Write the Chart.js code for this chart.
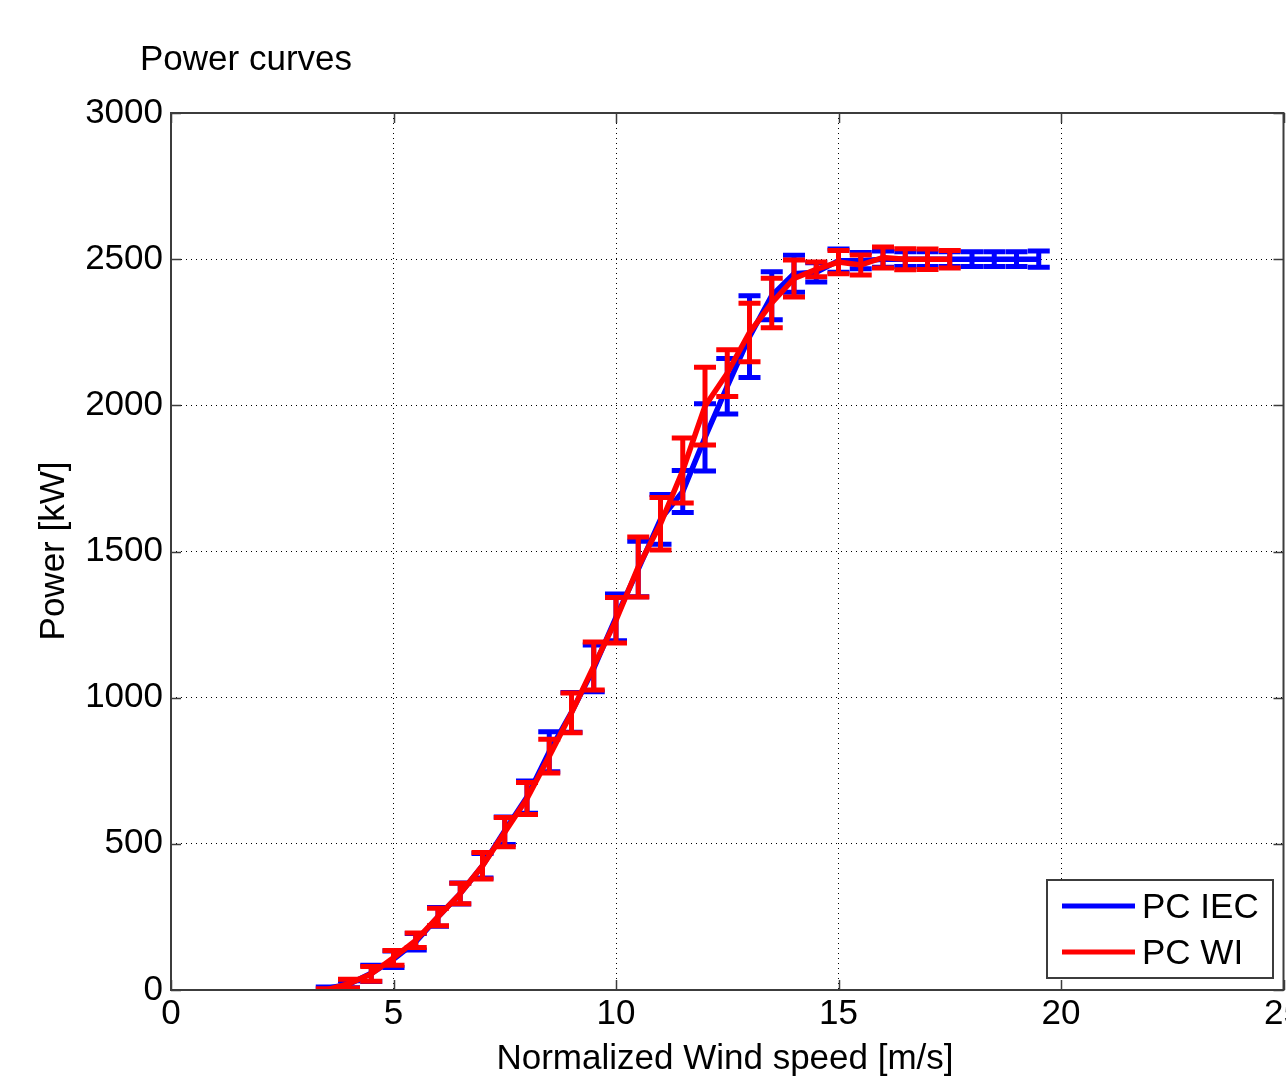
<!DOCTYPE html>
<html>
<head>
<meta charset="utf-8">
<script src="https://cdn.jsdelivr.net/npm/chart.js@4.4.0/dist/chart.umd.min.js"></script>
<style>
  html, body { margin: 0; padding: 0; background: #fff; }
  #wrap { width: 1286px; height: 1081px; position: relative; }
</style>
</head>
<body>
<div id="wrap"><canvas id="pc"></canvas></div>
<script>
// Wind speed bins [m/s]
const iecSpeed = [3.5, 4, 4.5, 5, 5.5, 6, 6.5, 7, 7.5, 8, 8.5, 9, 9.5, 10, 10.5, 11, 11.5, 12, 12.5, 13, 13.5, 14, 14.5, 15, 15.5, 16, 16.5, 17, 17.5, 18, 18.5, 19, 19.5];
const iecPower = [5, 20, 57, 105, 165, 250, 330, 425, 545, 660, 815, 950, 1100, 1275, 1440, 1610, 1705, 1890, 2065, 2235, 2375, 2450, 2455, 2495, 2495, 2500, 2500, 2500, 2500, 2500, 2500, 2500, 2500];
const iecErr   = [5, 12, 28, 28, 28, 32, 36, 42, 47, 55, 68, 68, 80, 80, 95, 85, 72, 115, 95, 140, 82, 63, 33, 40, 28, 28, 25, 25, 25, 25, 25, 25, 28];

const wiSpeed = [3.5, 4, 4.5, 5, 5.5, 6, 6.5, 7, 7.5, 8, 8.5, 9, 9.5, 10, 10.5, 11, 11.5, 12, 12.5, 13, 13.5, 14, 14.5, 15, 15.5, 16, 16.5, 17, 17.5];
const wiPower = [0, 22, 55, 110, 170, 250, 330, 425, 540, 655, 800, 948, 1108, 1265, 1447, 1595, 1777, 1997, 2110, 2249, 2350, 2434, 2465, 2490, 2480, 2506, 2500, 2500, 2500];
const wiErr   = [4, 15, 25, 25, 25, 30, 35, 45, 50, 55, 58, 68, 82, 78, 103, 90, 111, 133, 80, 100, 85, 63, 25, 40, 34, 36, 36, 35, 30];

const xTicks = [0, 5, 10, 15, 20, 25];
const yTicks = [0, 500, 1000, 1500, 2000, 2500, 3000];

const FONT = 'Liberation Sans, Arial, Helvetica, sans-serif';

const toPoints = (xs, ys) => xs.map((x, i) => ({ x: x, y: ys[i] }));

// error bars drawn right after each dataset, so red sits on top of blue
const errorBars = {
    id: 'errorBars',
    afterDatasetDraw(chart, args) {
        const ds = chart.data.datasets[args.index];
        if (!ds.errors) return;
        const ctx = chart.ctx;
        const xs = chart.scales.x, ys = chart.scales.y;
        const area = chart.chartArea;
        ctx.save();
        ctx.beginPath();
        ctx.rect(area.left, area.top, area.right - area.left, area.bottom - area.top);
        ctx.clip();
        ctx.strokeStyle = ds.borderColor;
        ctx.lineWidth = 5;
        ds.data.forEach((p, i) => {
            const px = xs.getPixelForValue(p.x);
            const top = ys.getPixelForValue(p.y + ds.errors[i]);
            const bot = ys.getPixelForValue(p.y - ds.errors[i]);
            ctx.beginPath();
            ctx.moveTo(px, top); ctx.lineTo(px, bot);
            ctx.moveTo(px - 11, top); ctx.lineTo(px + 11, top);
            ctx.moveTo(px - 11, bot); ctx.lineTo(px + 11, bot);
            ctx.stroke();
        });
        ctx.restore();
    }
};

// frame, inward ticks, title, axis labels and legend box (MATLAB look)
const decorations = {
    id: 'decorations',
    afterDraw(chart) {
        const ctx = chart.ctx;
        const a = chart.chartArea;
        const xs = chart.scales.x, ys = chart.scales.y;
        ctx.save();
        ctx.strokeStyle = '#3c3c3c';
        ctx.lineWidth = 2;
        ctx.strokeRect(a.left, a.top, a.right - a.left, a.bottom - a.top);
        ctx.beginPath();
        xTicks.forEach(t => {
            const px = Math.round(xs.getPixelForValue(t)) + 0.5;
            ctx.moveTo(px, a.bottom); ctx.lineTo(px, a.bottom - 10);
            ctx.moveTo(px, a.top); ctx.lineTo(px, a.top + 10);
        });
        yTicks.forEach(t => {
            const py = Math.round(ys.getPixelForValue(t)) + 0.5;
            ctx.moveTo(a.left, py); ctx.lineTo(a.left + 10, py);
            ctx.moveTo(a.right, py); ctx.lineTo(a.right - 10, py);
        });
        ctx.lineWidth = 1.5;
        ctx.stroke();

        ctx.fillStyle = '#000';
        ctx.font = '35px ' + FONT;
        ctx.textAlign = 'left';
        ctx.textBaseline = 'alphabetic';
        ctx.fillText('Power curves', 140, 70);

        ctx.textAlign = 'center';
        ctx.fillText('Normalized Wind speed [m/s]', 725, 1069);

        ctx.save();
        ctx.translate(64, 551);
        ctx.rotate(-Math.PI / 2);
        ctx.fillText('Power [kW]', 0, 0);
        ctx.restore();

        // legend
        ctx.fillStyle = '#fff';
        ctx.fillRect(1047, 880, 226, 98);
        ctx.strokeStyle = '#3c3c3c';
        ctx.lineWidth = 2;
        ctx.strokeRect(1047, 880, 226, 98);
        const items = [['PC IEC', '#0000ff', 906], ['PC WI', '#ff0000', 952]];
        items.forEach(([label, col, y]) => {
            ctx.strokeStyle = col;
            ctx.lineWidth = 5;
            ctx.beginPath();
            ctx.moveTo(1062, y); ctx.lineTo(1135, y);
            ctx.stroke();
            ctx.fillStyle = '#000';
            ctx.textAlign = 'left';
            ctx.textBaseline = 'middle';
            ctx.fillText(label, 1142, y + 2);
        });
        ctx.restore();
    }
};

const canvas = document.getElementById('pc');
canvas.width = 1286;
canvas.height = 1081;

new Chart(canvas, {
    type: 'line',
    data: {
        datasets: [{
            label: 'PC IEC',
            data: toPoints(iecSpeed, iecPower),
            errors: iecErr,
            borderColor: '#0000ff',
            borderWidth: 5.5,
            pointRadius: 0,
            tension: 0,
            fill: false,
            order: 1
        }, {
            label: 'PC WI',
            data: toPoints(wiSpeed, wiPower),
            errors: wiErr,
            borderColor: '#ff0000',
            borderWidth: 5.5,
            pointRadius: 0,
            tension: 0,
            fill: false,
            order: 0
        }]
    },
    options: {
        responsive: false,
        animation: false,
        devicePixelRatio: 1,
        layout: { padding: { left: 0, top: 113, right: 2.5, bottom: 0 } },
        plugins: {
            legend: { display: false },
            tooltip: { enabled: false },
            title: { display: false }
        },
        scales: {
            x: {
                type: 'linear',
                min: 0,
                max: 25,
                afterBuildTicks: s => { s.ticks = xTicks.map(v => ({ value: v })); },
                afterFit: s => { s.height = 91; s.paddingLeft = 0; s.paddingRight = 0; },
                ticks: {
                    color: '#000',
                    font: { family: FONT, size: 35 },
                    padding: 3,
                    maxRotation: 0,
                    callback: v => String(v)
                },
                grid: { color: '#000', lineWidth: 1, drawTicks: false },
                border: { display: false, dash: [1, 4] }
            },
            y: {
                type: 'linear',
                min: 0,
                max: 3000,
                afterBuildTicks: s => { s.ticks = yTicks.map(v => ({ value: v })); },
                afterFit: s => { s.width = 171; s.paddingTop = 0; s.paddingBottom = 0; },
                ticks: {
                    color: '#000',
                    font: { family: FONT, size: 35 },
                    padding: 8,
                    callback: v => String(v)
                },
                grid: { color: '#000', lineWidth: 1, drawTicks: false },
                border: { display: false, dash: [1, 4] }
            }
        }
    },
    plugins: [errorBars, decorations]
});
</script>
</body>
</html>
